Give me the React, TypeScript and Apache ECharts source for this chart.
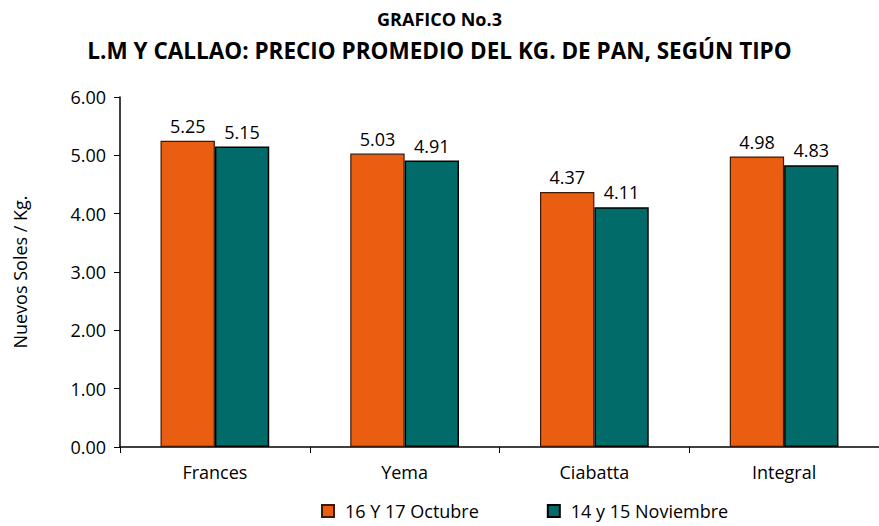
import React, { useEffect, useRef } from "react";
import * as echarts from "echarts";

const categories = ["Frances", "Yema", "Ciabatta", "Integral"];
const octubre = [5.25, 5.03, 4.37, 4.98];
const noviembre = [5.15, 4.91, 4.11, 4.83];
const seriesNames = ["16 Y 17 Octubre", "14 y 15 Noviembre"];

const FONT = "'Open Sans', 'Noto Sans', sans-serif";

export default function App() {
  const ref = useRef<HTMLDivElement>(null);
  useEffect(() => {
    document.body.style.margin = "0";
    const chart = echarts.init(ref.current!, null, { renderer: "svg" });
    const label = {
      show: true,
      position: "top",
      distance: 6,
      fontFamily: FONT,
      fontSize: 18,
      color: "#000",
      formatter: (p: any) => p.value.toFixed(2),
    };
    chart.setOption({
      animation: false,
      backgroundColor: "#ffffff",
      title: [
        {
          text: "GRAFICO No.3",
          left: "center",
          top: 5,
          textStyle: { fontFamily: FONT, fontSize: 18, fontWeight: "bold", color: "#000" },
        },
        {
          text: "L.M Y CALLAO: PRECIO PROMEDIO DEL KG. DE PAN, SEGÚN TIPO",
          left: "center",
          top: 34,
          textStyle: { fontFamily: FONT, fontSize: 22.5, fontWeight: "bold", color: "#000" },
        },
      ],
      legend: {
        top: 497,
        left: 316,
        itemGap: 68,
        itemWidth: 12,
        itemHeight: 12,
        icon: "rect",
        textStyle: { fontFamily: FONT, fontSize: 18, color: "#000", padding: [0, 0, 0, 6] },
        data: seriesNames,
      },
      grid: { left: 120, top: 97, bottom: 79, width: 768 },
      xAxis: {
        type: "category",
        data: categories,
        axisLine: { lineStyle: { color: "#000", width: 1.5 } },
        axisTick: { show: true, length: 6, lineStyle: { color: "#000" } },
        axisLabel: { fontFamily: FONT, fontSize: 18, color: "#000", margin: 16 },
      },
      yAxis: {
        type: "value",
        min: 0,
        max: 6,
        interval: 1,
        name: "Nuevos Soles / Kg.",
        nameLocation: "middle",
        nameGap: 91,
        nameTextStyle: { fontFamily: FONT, fontSize: 18, color: "#000" },
        axisLine: { show: true, lineStyle: { color: "#000", width: 1.5 } },
        axisTick: { show: true, length: 6, lineStyle: { color: "#000" } },
        splitLine: { show: false },
        axisLabel: {
          fontFamily: FONT,
          fontSize: 18,
          color: "#000",
          margin: 14,
          formatter: (v: number) => v.toFixed(2),
        },
      },
      series: [
        {
          name: seriesNames[0],
          type: "bar",
          data: octubre,
          barGap: "0%",
          barCategoryGap: "42.7%",
          itemStyle: { color: "#E95E10", borderColor: "#3a1a08", borderWidth: 1.2 },
          label,
        },
        {
          name: seriesNames[1],
          type: "bar",
          data: noviembre,
          itemStyle: { color: "#006B68", borderColor: "#000", borderWidth: 1.5 },
          label,
        },
      ],
    });
    return () => chart.dispose();
  }, []);
  return <div ref={ref} style={{ width: 879, height: 526 }} />;
}
